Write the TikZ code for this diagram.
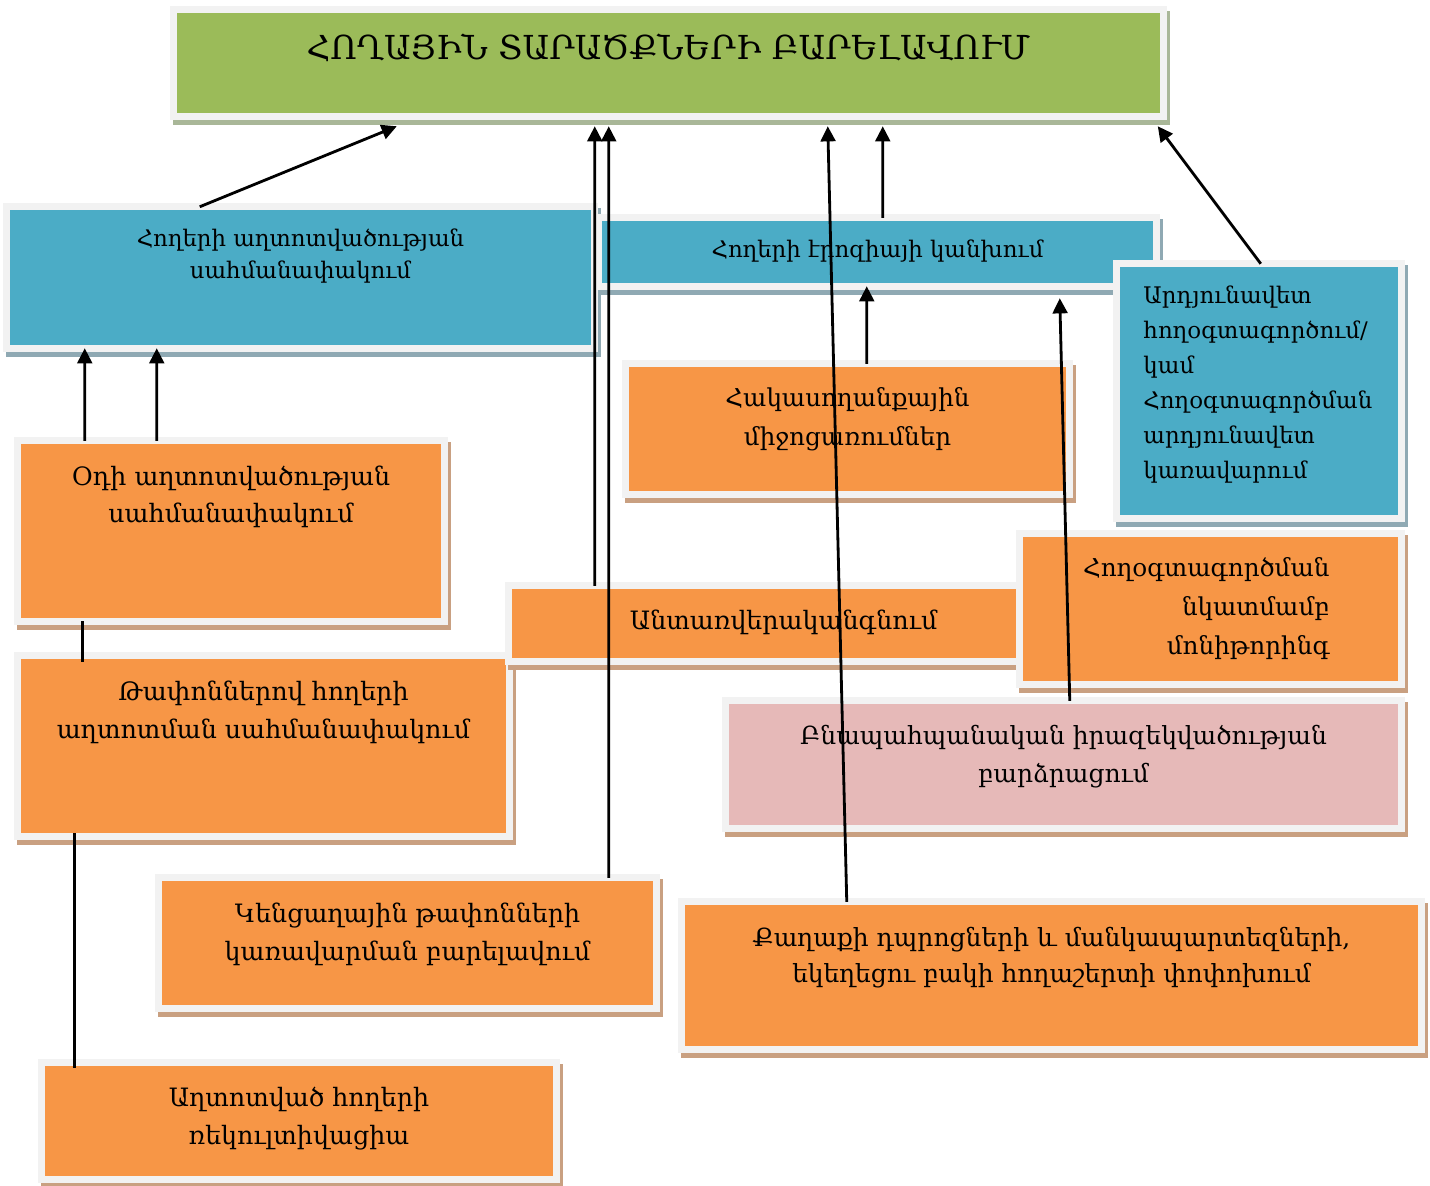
\documentclass[tikz,border=0pt]{standalone}
\usepackage{fontspec}
\setmainfont{DejaVu Serif}
\usetikzlibrary{positioning, arrows.meta}

\definecolor{titlegreen}{HTML}{9BBB59}
\definecolor{skyblue}{HTML}{4BACC6}
\definecolor{lightorange}{HTML}{F79646}
\definecolor{rosepink}{HTML}{E6B9B8}
\definecolor{framegrey}{HTML}{F2F2F2}
\definecolor{greenshade}{HTML}{A9B798}
\definecolor{blueshade}{HTML}{8FA9B3}
\definecolor{orangeshade}{HTML}{C9A081}

\tikzset{boxshadow/.style={preaction={draw=#1, fill=#1, line width=2.1pt, transform canvas={xshift=0.9pt, yshift=-1.4pt}}}}
\tikzstyle{panel} = [rectangle, draw=framegrey, line width=2.1pt, outer sep=0pt]
\tikzstyle{greenbox} = [panel, fill=titlegreen, boxshadow=greenshade]
\tikzstyle{bluebox} = [panel, fill=skyblue, boxshadow=blueshade]
\tikzstyle{orangebox} = [panel, fill=lightorange, boxshadow=orangeshade]
\tikzstyle{pinkbox} = [panel, fill=rosepink, boxshadow=orangeshade]
\tikzstyle{boxtext} = [inner sep=0pt, align=center, font=\fontsize{7.2}{10.8}\selectfont]
\tikzstyle{arrow} = [thick,-{Triangle[length=4.3pt,width=4.2pt]}]
\tikzstyle{link} = [thick]

\begin{document}
\begin{tikzpicture}
\useasboundingbox (0,0) rectangle (14.3,-11.85);

% boxes
\node (title) [greenbox, minimum width=9.895cm, minimum height=1.065cm] at (6.685,-0.63) {};
\node (titletext) [boxtext, font=\fontsize{9.4}{11}\selectfont, below=0.23cm of title.north] {ՀՈՂԱՅԻՆ ՏԱՐԱԾՔՆԵՐԻ ԲԱՐԵԼԱՎՈՒՄ};

\node (soilpoll) [bluebox, minimum width=5.875cm, minimum height=1.415cm] at (3.005,-2.775) {};
\node (soilpolltext) [boxtext, font=\fontsize{6.5}{9.1}\selectfont, below=0.21cm of soilpoll.north] {Հողերի աղտոտվածության\\սահմանափակում};

\node (erosion) [bluebox, minimum width=5.575cm, minimum height=0.685cm] at (8.775,-2.52) {};
\node (erosiontext) [boxtext, font=\fontsize{6.5}{9.1}\selectfont, below=0.21cm of erosion.north] {Հողերի էրոզիայի կանխում};

\node (landuse) [bluebox, minimum width=2.845cm, minimum height=2.545cm] at (12.59,-3.91) {};
\node (landusetext) [boxtext, align=left, font=\fontsize{6.5}{10}\selectfont, below right=0.21cm and 0.26cm of landuse.north west] {Արդյունավետ\\հողօգտագործում/\\կամ\\Հողօգտագործման\\արդյունավետ\\կառավարում};

\node (counter) [orangebox, minimum width=4.435cm, minimum height=1.305cm] at (8.475,-4.29) {};
\node (countertext) [boxtext, font=\fontsize{7}{11}\selectfont, below=0.23cm of counter.north] {Հակասողանքային\\միջոցառումներ};

\node (airpoll) [orangebox, minimum width=4.265cm, minimum height=1.805cm] at (2.31,-5.31) {};
\node (airpolltext) [boxtext, below=0.24cm of airpoll.north] {Օդի աղտոտվածության\\սահմանափակում};

\node (wastepoll) [orangebox, minimum width=4.915cm, minimum height=1.805cm] at (2.635,-7.46) {};
\node (wastepolltext) [boxtext, below=0.24cm of wastepoll.north] {Թափոններով հողերի\\աղտոտման սահմանափակում};

\node (forest) [orangebox, minimum width=5.495cm, minimum height=0.755cm] at (7.835,-6.235) {};
\node (foresttext) [boxtext, below=0.23cm of forest.north] {Անտառվերականգնում};

\node (monitor) [orangebox, minimum width=3.815cm, minimum height=1.505cm] at (12.105,-6.09) {};
\node (monitortext) [boxtext, align=right, font=\fontsize{7}{11.1}\selectfont, below left=0.23cm and 0.71cm of monitor.north east] {Հողօգտագործման\\նկատմամբ\\մոնիթորինգ};

\node (aware) [pinkbox, minimum width=6.755cm, minimum height=1.275cm] at (10.635,-7.645) {};
\node (awaretext) [boxtext, font=\fontsize{7.1}{10.8}\selectfont, below=0.24cm of aware.north] {Բնապահպանական իրազեկվածության\\բարձրացում};

\node (household) [orangebox, minimum width=4.975cm, minimum height=1.305cm] at (4.075,-9.43) {};
\node (householdtext) [boxtext, below=0.24cm of household.north] {Կենցաղային թափոնների\\կառավարման բարելավում};

\node (schoolyard) [orangebox, minimum width=7.395cm, minimum height=1.475cm] at (10.515,-9.755) {};
\node (schoolyardtext) [boxtext, font=\fontsize{7.1}{10.2}\selectfont, below=0.25cm of schoolyard.north] {Քաղաքի դպրոցների և մանկապարտեզների,\\եկեղեցու բակի հողաշերտի փոփոխում};

\node (reclaim) [orangebox, minimum width=5.145cm, minimum height=1.165cm] at (2.99,-11.21) {};
\node (reclaimtext) [boxtext, below=0.24cm of reclaim.north] {Աղտոտված հողերի\\ռեկուլտիվացիա};

% connectors
\draw [arrow] ([xshift=1.93cm]soilpoll.north west) -- ([xshift=2.23cm,yshift=-0.1cm]title.south west);
\draw [arrow] ([xshift=0.86cm]forest.north west) -- ([xshift=4.21cm,yshift=-0.1cm]title.south west);
\draw [arrow] ([xshift=4.5cm]household.north west) -- ([xshift=4.35cm,yshift=-0.1cm]title.south west);
\draw [arrow] ([xshift=1.65cm]schoolyard.north west) -- ([xshift=6.54cm,yshift=-0.1cm]title.south west);
\draw [arrow] ([xshift=2.84cm]erosion.north west) -- ([xshift=7.09cm,yshift=-0.1cm]title.south west);
\draw [arrow] ([xshift=1.44cm]landuse.north west) -- ([xshift=9.84cm,yshift=-0.1cm]title.south west);
\draw [arrow] ([xshift=2.41cm]counter.north west) -- ([xshift=2.68cm]erosion.south west);
\draw [arrow] ([xshift=3.44cm]aware.north west) -- ([xshift=4.61cm,yshift=-0.12cm]erosion.south west);
\draw [arrow] ([xshift=0.67cm]airpoll.north west) -- ([xshift=0.78cm]soilpoll.south west);
\draw [arrow] ([xshift=1.39cm]airpoll.north west) -- ([xshift=1.5cm]soilpoll.south west);
\draw [link] ([xshift=0.65cm]airpoll.south west) -- ([xshift=0.65cm,yshift=-0.06cm]wastepoll.north west);
\draw [link] ([xshift=0.57cm,yshift=0.03cm]wastepoll.south west) -- ([xshift=0.33cm,yshift=-0.05cm]reclaim.north west);
\end{tikzpicture}
\end{document}
